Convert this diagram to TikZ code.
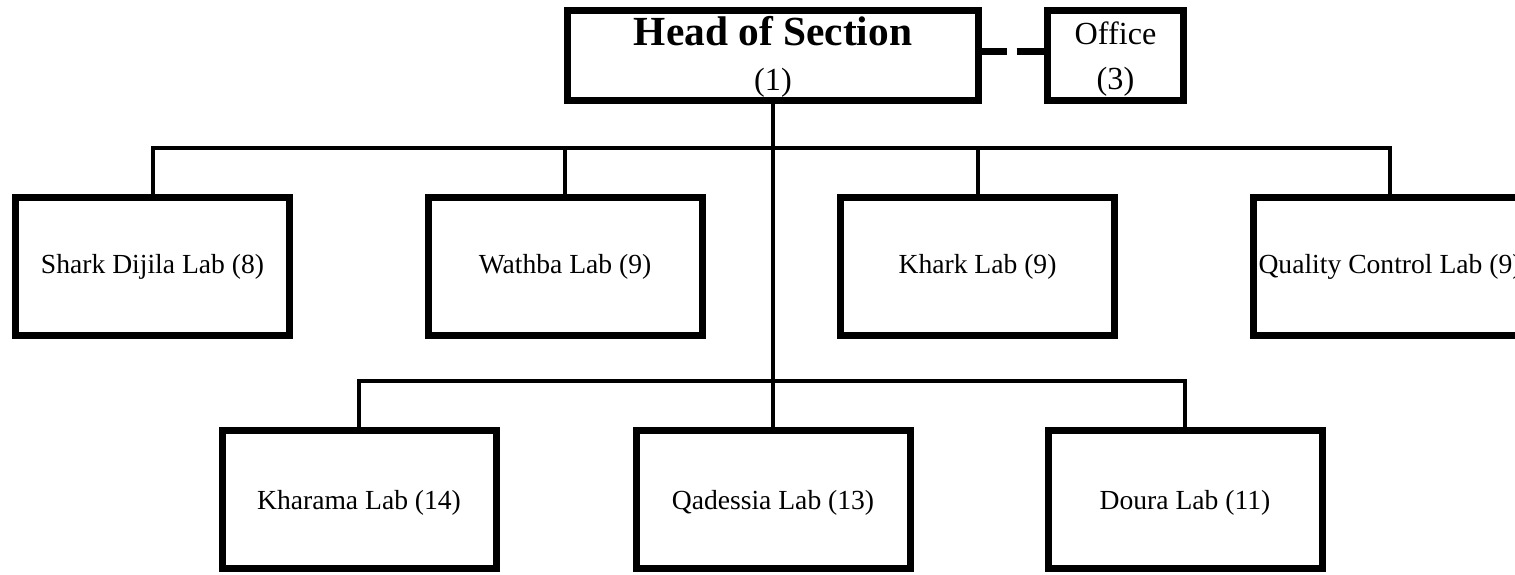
\documentclass[tikz,border=0pt]{standalone}
\usepackage{fontspec}
\setmainfont{Liberation Serif}
\begin{document}
\begin{tikzpicture}[x=1pt,y=-1pt,
  unitbox/.style={draw, line width=7pt, inner sep=0pt, fill=white},
  labbox/.style={unitbox, minimum width=274pt, minimum height=138pt,
                 font=\fontsize{27.6}{33}\selectfont, text depth=7pt, text height=20pt},
  lowlabbox/.style={labbox, text height=27pt},
  toplabel/.style={anchor=base, inner sep=0pt},
  link/.style={line width=4pt},
  dashlink/.style={line width=7pt, dash pattern=on 24.5pt off 10pt on 50pt off 10pt}]
\useasboundingbox (0,0) rectangle (1515,575);
\clip (0,0) rectangle (1515,575);
\fill[white] (0,0) rectangle (1515,575);

% head of section and office
\node[unitbox, minimum width=411pt, minimum height=90pt] (head) at (773,55.5) {};
\node[toplabel, font=\bfseries\fontsize{41.4}{48}\selectfont] (headname) at (773,46) {Head of Section};
\node[toplabel, font=\fontsize{32.2}{38}\selectfont] (headnum) at (773,91) {(1)};

\node[unitbox, minimum width=136pt, minimum height=90pt] (office) at (1115.5,55.5) {};
\node[toplabel, font=\fontsize{32.2}{38}\selectfont] (officename) at (1115.5,45) {Office};
\node[toplabel, font=\fontsize{32.2}{38}\selectfont] (officenum) at (1115.5,90) {(3)};

% first row of labs
\node[labbox] (shark)   at (152.5,266.5) {Shark Dijila Lab (8)};
\node[labbox] (wathba)  at (565,266.5)   {Wathba Lab (9)};
\node[labbox] (khark)   at (977.5,266.5) {Khark Lab (9)};
\node[labbox] (quality) at (1390,266.5)  {Quality Control Lab (9)};

% second row of labs
\node[lowlabbox] (kharama)  at (359,499)  {Kharama Lab (14)};
\node[lowlabbox] (qadessia) at (773,499)  {Qadessia Lab (13)};
\node[lowlabbox] (doura)    at (1185,499) {Doura Lab (11)};

% connectors
\coordinate (bar1) at (773,148);
\coordinate (bar2) at (773,381);
\draw[dashlink] ([yshift=3.5pt]head.east) -- ([yshift=3.5pt]office.west);
\draw[link] (head.south) -- (qadessia.north);
\draw[link] (shark.north) |- (bar1) -| (quality.north);
\draw[link] (wathba.north) -- (wathba.north |- bar1);
\draw[link] (khark.north) -- (khark.north |- bar1);
\draw[link] (kharama.north) |- (bar2) -| (doura.north);
\end{tikzpicture}
\end{document}
